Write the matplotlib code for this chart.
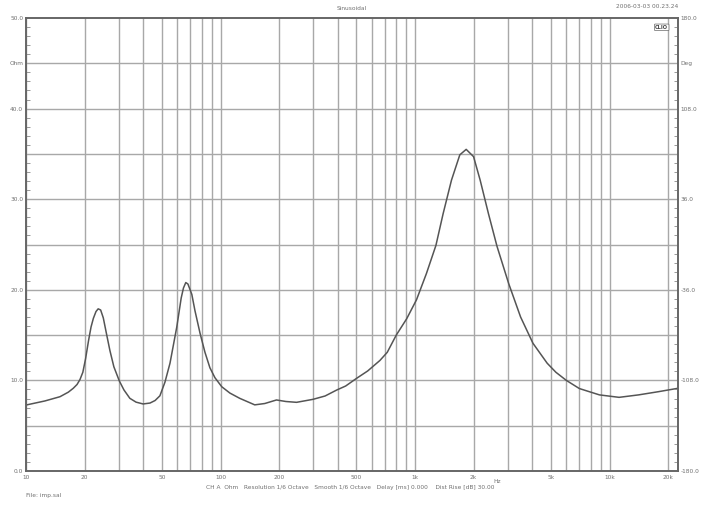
import matplotlib
matplotlib.use("Agg")
import matplotlib.pyplot as plt
from matplotlib.ticker import FixedLocator

# ---- data (frequency in Hz, impedance in Ohm) ----
freq_hz = [10.0, 12.5, 14.95, 16.5, 17.5, 18.3, 18.95, 19.6, 20.25, 20.97, 21.6,
           22.2, 22.9, 23.5, 24.2, 24.97, 25.9, 27.0, 28.3, 30.2, 31.9, 34.2,
           36.8, 40.0, 43.4, 46.1, 48.8, 51.8, 55.0, 59.6, 62.8, 64.5, 66.3,
           68.0, 71.2, 73.9, 78.5, 83.2, 88.2, 93.6, 101.5, 111.8, 125.6, 150,
           169, 194, 217, 246, 299, 345, 396, 440, 501, 571, 660, 720, 801, 906,
           1018, 1145, 1281, 1395, 1540, 1700, 1833, 2000, 2163, 2386, 2640,
           3030, 3490, 4040, 4780, 5300, 6000, 7000, 8880, 11200, 14100, 17800,
           22500]
impedance_ohm = [7.28, 7.73, 8.2, 8.7, 9.13, 9.55, 10.1, 10.9, 12.4, 14.4, 15.9,
                 16.85, 17.6, 17.9, 17.77, 16.9, 15.2, 13.3, 11.5, 9.93, 8.94, 8.02,
                 7.6, 7.4, 7.5, 7.78, 8.3, 9.8, 11.9, 15.9, 19.1, 20.2, 20.8,
                 20.64, 19.5, 17.7, 15.2, 13.1, 11.4, 10.3, 9.3, 8.6, 8.02, 7.3,
                 7.45, 7.84, 7.67, 7.58, 7.91, 8.28, 8.94, 9.38, 10.23, 11.04, 12.2,
                 13.1, 15.0, 16.8, 18.9, 21.8, 24.9, 28.4, 32.1, 34.9, 35.5, 34.7,
                 32.1, 28.4, 24.8, 20.7, 17.0, 14.1, 11.9, 10.9, 10.0, 9.1, 8.4,
                 8.13, 8.4, 8.75, 9.13]

x_tick_vals = [10, 20, 50, 100, 200, 500, 1000, 2000, 5000, 10000, 20000]
x_tick_labels = ["10", "20", "50", "100", "200", "500", "1k", "2k", "5k", "10k", "20k"]
left_tick_vals = [0, 10, 20, 30, 40, 45, 50]
left_tick_labels = ["0.0", "10.0", "20.0", "30.0", "40.0", "Ohm", "50.0"]
right_tick_vals = [-180, -108, -36, 36, 108, 144, 180]
right_tick_labels = ["-180.0", "-108.0", "-36.0", "36.0", "108.0", "Deg", "180.0"]

title_text = "Sinusoidal"
date_text = "2006-03-03 00.23.24"
info_text = ("CH A  Ohm   Resolution 1/6 Octave   Smooth 1/6 Octave   "
             "Delay [ms] 0.000    Dist Rise [dB] 30.00")
file_text = "File: imp.sal"

# ---- figure ----
W, H = 705, 508
fig = plt.figure(figsize=(W / 100, H / 100), dpi=100)
ax = fig.add_axes([26 / W, 1 - 471 / H, (678 - 26) / W, (471 - 18) / H])

txt_col = "#707070"
grid_col = "#a8a8a8"
fs = 4.2

ax.set_xscale("log")
ax.set_xlim(10, 22500)
ax.set_ylim(0, 50)

# vertical grid at 1..9 x decade
grid_x = []
for dec in [10, 100, 1000, 10000]:
    for m in range(1, 10):
        v = dec * m
        if v <= 20000:
            grid_x.append(v)
for v in grid_x:
    ax.axvline(v, color=grid_col, lw=1.0, zorder=1)
for yv in range(5, 50, 5):
    ax.axhline(yv, color=grid_col, lw=1.0, zorder=1)

ax.plot(freq_hz, impedance_ohm, color="#555555", lw=1.1, zorder=3,
        solid_joinstyle="round")

ax.xaxis.set_major_locator(FixedLocator(x_tick_vals))
ax.set_xticklabels(x_tick_labels)
ax.minorticks_off()
ax.tick_params(axis="x", which="both", length=0, pad=3, labelsize=fs, labelcolor=txt_col)

ax.set_yticks(left_tick_vals)
ax.set_yticklabels(left_tick_labels)
ax.yaxis.set_minor_locator(FixedLocator([v for v in range(0, 51) if v % 5 != 0]))
ax.tick_params(axis="y", which="major", direction="in", length=0, pad=2,
               labelsize=fs, labelcolor=txt_col)
ax.tick_params(axis="y", which="minor", direction="in", length=3, color="#888888", width=0.6)

ax2 = ax.twinx()
ax2.set_ylim(-180, 180)
ax2.set_yticks(right_tick_vals)
ax2.set_yticklabels(right_tick_labels)
ax2.yaxis.set_minor_locator(FixedLocator([-180 + 7.2 * i for i in range(51) if i % 5 != 0]))
ax2.tick_params(axis="y", which="major", direction="in", length=0, pad=2,
                labelsize=fs, labelcolor=txt_col)
ax2.tick_params(axis="y", which="minor", direction="in", length=3, color="#888888", width=0.6)

for a in (ax, ax2):
    for s in a.spines.values():
        s.set_color("#666666")
        s.set_linewidth(1.2)

# Hz label on x axis
ax.text(2640, -0.018, "Hz", transform=ax.get_xaxis_transform(), ha="center", va="top",
        fontsize=fs, color=txt_col)

# CLIO mark
ax.text(0.985, 0.985, "CLIO", transform=ax.transAxes, ha="right", va="top",
        fontsize=3.6, fontweight="bold", color="#444444",
        bbox=dict(boxstyle="round,pad=0.15", fc="white", ec="#666666", lw=0.5), zorder=5)

fig.text(352 / W, 1 - 8 / H, title_text, ha="center", va="center", fontsize=fs, color=txt_col)
fig.text(678 / W, 1 - 7 / H, date_text, ha="right", va="center", fontsize=fs, color=txt_col)
fig.text(350 / W, 1 - 487 / H, info_text, ha="center", va="center", fontsize=fs, color=txt_col)
fig.text(26 / W, 1 - 496 / H, file_text, ha="left", va="center", fontsize=fs, color=txt_col)

fig.savefig("out.png", dpi=100, facecolor="white")
